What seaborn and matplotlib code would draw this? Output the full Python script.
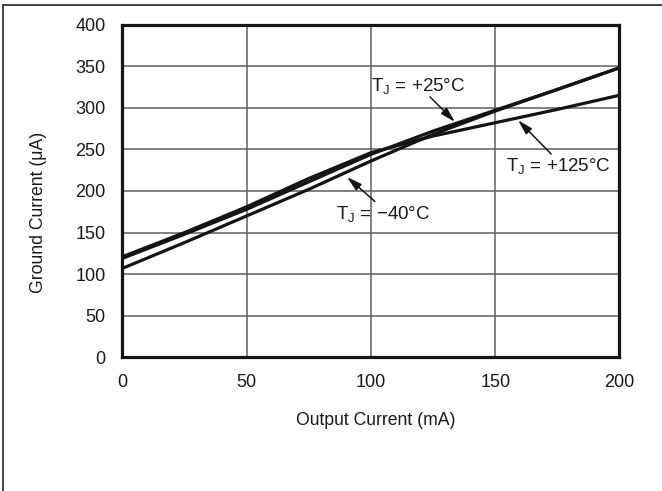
import matplotlib
matplotlib.use("Agg")
import matplotlib.pyplot as plt
from matplotlib.lines import Line2D
import seaborn as sns
import pandas as pd

# Data
output_current = [0, 25, 50, 75, 100, 125, 150, 175, 200]
gc_m40 = [107, 138, 170, 202, 236, 268, 296, 322, 348]
gc_25 = [119, 148, 178, 211, 244, 272, 297, 322, 348]
gc_125 = [121, 150, 181, 215, 246, 266, 282, 298, 315]
series_names = ["-40", "+25", "+125"]

x_ticks = [0, 50, 100, 150, 200]
y_ticks = [0, 50, 100, 150, 200, 250, 300, 350, 400]

rows = []
for name, vals in zip(series_names, [gc_m40, gc_25, gc_125]):
    for xv, yv in zip(output_current, vals):
        rows.append({"Output Current": xv, "Ground Current": yv, "Temp": name})
df = pd.DataFrame(rows)

sns.set_style("white")
plt.rcParams["font.family"] = ["Liberation Sans", "DejaVu Sans"]
plt.rcParams["mathtext.fontset"] = "custom"
plt.rcParams["mathtext.rm"] = "Liberation Sans"
plt.rcParams["mathtext.default"] = "regular"

fig = plt.figure(figsize=(6.62, 4.91), dpi=100)
ax = fig.add_axes([0.1847, 0.2719, 0.9358 - 0.1847, 0.9501 - 0.2719])

sns.lineplot(data=df, x="Output Current", y="Ground Current", hue="Temp",
             palette=["#141414"] * 3, legend=False, linewidth=2.3, ax=ax)

ax.set_xlim(0, 200)
ax.set_ylim(0, 400)
ax.set_xticks(x_ticks)
ax.set_yticks(y_ticks)
ax.tick_params(axis="both", length=0, pad=12, labelsize=13, colors="#1a1a1a")
ax.grid(True, color="#5e5e5e", linewidth=1.1)
ax.set_axisbelow(True)
for sp in ax.spines.values():
    sp.set_color("#151515")
    sp.set_linewidth(2.3)
    sp.set_visible(True)

ax.set_xlabel("Output Current (mA)", fontsize=12.7, color="#1a1a1a")
ax.set_ylabel("Ground Current (\u03bcA)", fontsize=12.7, color="#1a1a1a")
ax.xaxis.label.set_va("center")
ax.yaxis.label.set_va("center")
ax.xaxis.set_label_coords(0.51, -0.188)
ax.yaxis.set_label_coords(-0.169, 0.437)

arrow = dict(arrowstyle="-|>,head_length=0.9,head_width=0.25", color="#141414", lw=1.1,
             shrinkA=0, shrinkB=0)
ann_fs = 13.5
ax.text(119, 326, "T$_J$ = +25\u00b0C", ha="center", va="center", fontsize=ann_fs, color="#1a1a1a")
ax.annotate("", xy=(133.8, 283), xytext=(123.8, 313), arrowprops=arrow)
ax.text(175.3, 230, "T$_J$ = +125\u00b0C", ha="center", va="center", fontsize=ann_fs, color="#1a1a1a")
ax.annotate("", xy=(159.2, 285), xytext=(172.5, 244.5), arrowprops=arrow)
ax.text(104.9, 172.5, "T$_J$ = \u221240\u00b0C", ha="center", va="center", fontsize=ann_fs, color="#1a1a1a")
ax.annotate("", xy=(90.4, 216.8), xytext=(101.6, 187.5), arrowprops=arrow)

# figure frame lines (top and left)
fig.add_artist(Line2D([3 / 662, 3 / 662], [0, 1 - 4.5 / 491], transform=fig.transFigure,
                      color="#333333", lw=1.3))
fig.add_artist(Line2D([3 / 662, 1], [1 - 4.5 / 491, 1 - 4.5 / 491], transform=fig.transFigure,
                      color="#333333", lw=1.3))

fig.savefig("out.png", dpi=100)
